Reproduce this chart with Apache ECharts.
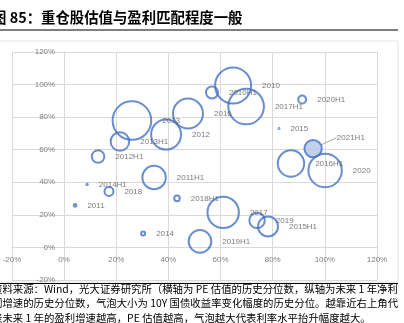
<!DOCTYPE html>
<html>
<head>
<meta charset="utf-8">
<script src="https://cdn.jsdelivr.net/npm/echarts@6/dist/echarts.min.js"></script>
<style>
html,body{margin:0;padding:0;background:#fff;}
#c{width:404px;height:323px;}
</style>
</head>
<body>
<div id="c"></div>
<script>
// Bubble labels (period)
const periods = ['2010','2010H1','2017H1','2016','2013','2012','2013H1','2012H1','2020H1','2015','2021H1','2016H1','2020','2011H1','2014H1','2018','2018H1','2011','2017','2019','2015H1','2019H1','2014'];
// x: PE valuation historical percentile (%)
const peRank = [64.8,56.7,69.8,47.5,26.0,39.1,21.4,13.0,91.3,82.4,95.5,87.0,100.1,34.5,8.8,17.2,43.3,4.2,61.0,74.0,78.2,52.1,30.3];
// y: next-year profit growth historical percentile (%)
const growthRank = [99.4,95.1,86.5,82.2,77.9,69.3,65.0,55.8,90.8,73.0,60.7,51.5,47.2,42.9,38.7,34.4,30.1,25.8,21.5,16.6,12.9,3.7,8.6];
// bubble size: 10Y yield change historical percentile (%)
const rateRank = [87.6,11.9,85.8,62.1,100,62.1,25.7,12.9,6.1,0.3,22.8,48.9,76,39.1,0.7,7.3,3.5,1.3,67.7,18.4,29.4,36.7,2.2];
// axis ticks (%)
const xTicks = [-20,0,20,40,60,80,100,120];
const yTicks = [-20,0,20,40,60,80,100,120];
const highlight = '2021H1';

const titleText = '图 85：重仓股估值与盈利匹配程度一般';
const noteLines = [
  '资料来源：Wind，光大证券研究所（横轴为 PE 估值的历史分位数，纵轴为未来 1 年净利',
  '润增速的历史分位数，气泡大小为 10Y 国债收益率变化幅度的历史分位。越靠近右上角代',
  '表未来 1 年的盈利增速越高，PE 估值越高，气泡越大代表利率水平抬升幅度越大。'
];

const W = 404, H = 323;
const G = { left: 12, right: 27, top: 52, bottom: 43 };
const gw = W - G.left - G.right, gh = H - G.top - G.bottom;
const xMin = xTicks[0], xMax = xTicks[xTicks.length - 1];
const yMin = yTicks[0], yMax = yTicks[yTicks.length - 1];
// shift each axis so it crosses the other at zero
const yAxisOffset = -((0 - xMin) / (xMax - xMin)) * gw;
const xAxisOffset = -((0 - yMin) / (yMax - yMin)) * gh;

const hiIndex = periods.indexOf(highlight);
const data = periods.map((p, i) => {
  const item = { name: p, value: [peRank[i], growthRank[i], rateRank[i]] };
  if (i === hiIndex) {
    item.itemStyle = { color: '#B4C7E7' };
    item.labelLine = { show: true, lineStyle: { color: '#A6A6A6', width: 1 } };
  }
  return item;
});

const chart = echarts.init(document.getElementById('c'), null, { renderer: 'canvas' });
const cjk = '"Noto Sans CJK SC", sans-serif';
const grey = '#D9D9D9';

chart.setOption({
  backgroundColor: '#fff',
  animation: false,
  grid: { left: G.left, right: G.right, top: G.top, bottom: G.bottom, containLabel: false, outerBoundsMode: 'none' },
  xAxis: {
    type: 'value', position: 'bottom', offset: xAxisOffset,
    min: xMin, max: xMax, interval: xTicks[1] - xTicks[0],
    axisLine: { show: true, onZero: false, lineStyle: { color: grey, width: 1 } },
    axisTick: { show: false },
    axisLabel: { formatter: '{value}%', color: '#808080', fontSize: 8, fontFamily: 'Liberation Sans', margin: 8, showMinLabel: true, showMaxLabel: true },
    splitLine: { show: true, lineStyle: { color: grey, width: 1 } }
  },
  yAxis: {
    type: 'value', position: 'left', offset: yAxisOffset,
    min: yMin, max: yMax, interval: yTicks[1] - yTicks[0],
    axisLine: { show: true, onZero: false, lineStyle: { color: grey, width: 1 } },
    axisTick: { show: false },
    axisLabel: { formatter: '{value}%', color: '#808080', fontSize: 8, fontFamily: 'Liberation Sans', margin: 9, showMinLabel: true, showMaxLabel: true },
    splitLine: { show: true, lineStyle: { color: grey, width: 1 } }
  },
  series: [{
    type: 'scatter',
    data: data,
    symbol: 'circle',
    symbolSize: function (val) { return Math.max(1, 40.6 * Math.sqrt(val[2] / 100) - 2); },
    itemStyle: { color: 'rgba(255,255,255,0)', borderColor: '#4472C4', borderWidth: 2 },
    label: {
      show: true, position: 'right', distance: 10,
      formatter: '{b}', color: '#595959', fontSize: 8, fontFamily: 'Liberation Sans'
    },
    labelLine: { show: false },
    labelLayout: function (p) {
      if (p.dataIndex === hiIndex) return { dx: 4, dy: -11 };
      return {};
    },
    emphasis: { disabled: true }
  }],
  graphic: [
    { type: 'rect', shape: { x: -1, y: 41, width: 399, height: 241 }, style: { fill: 'none', stroke: '#E3E3E3', lineWidth: 1 }, silent: true, z: -10 },
    { type: 'line', shape: { x1: 0, y1: 30, x2: 398, y2: 30 }, style: { stroke: '#7F7F7F', lineWidth: 2 }, silent: true },
    { type: 'line', shape: { x1: 0, y1: 283.5, x2: 398, y2: 283.5 }, style: { stroke: '#000', lineWidth: 1 }, silent: true },
    { type: 'text', x: -8, y: 18, style: { text: titleText, font: 'bold 14.4px ' + cjk, fill: '#000', textVerticalAlign: 'middle' }, silent: true },
    { type: 'text', x: -8, y: 289, style: { text: noteLines[0], font: '10.4px ' + cjk, fill: '#000', textVerticalAlign: 'middle' }, silent: true },
    { type: 'text', x: -8, y: 303.5, style: { text: noteLines[1], font: '10.4px ' + cjk, fill: '#000', textVerticalAlign: 'middle' }, silent: true },
    { type: 'text', x: -8, y: 318, style: { text: noteLines[2], font: '10.4px ' + cjk, fill: '#000', textVerticalAlign: 'middle' }, silent: true }
  ]
});
</script>
</body>
</html>
